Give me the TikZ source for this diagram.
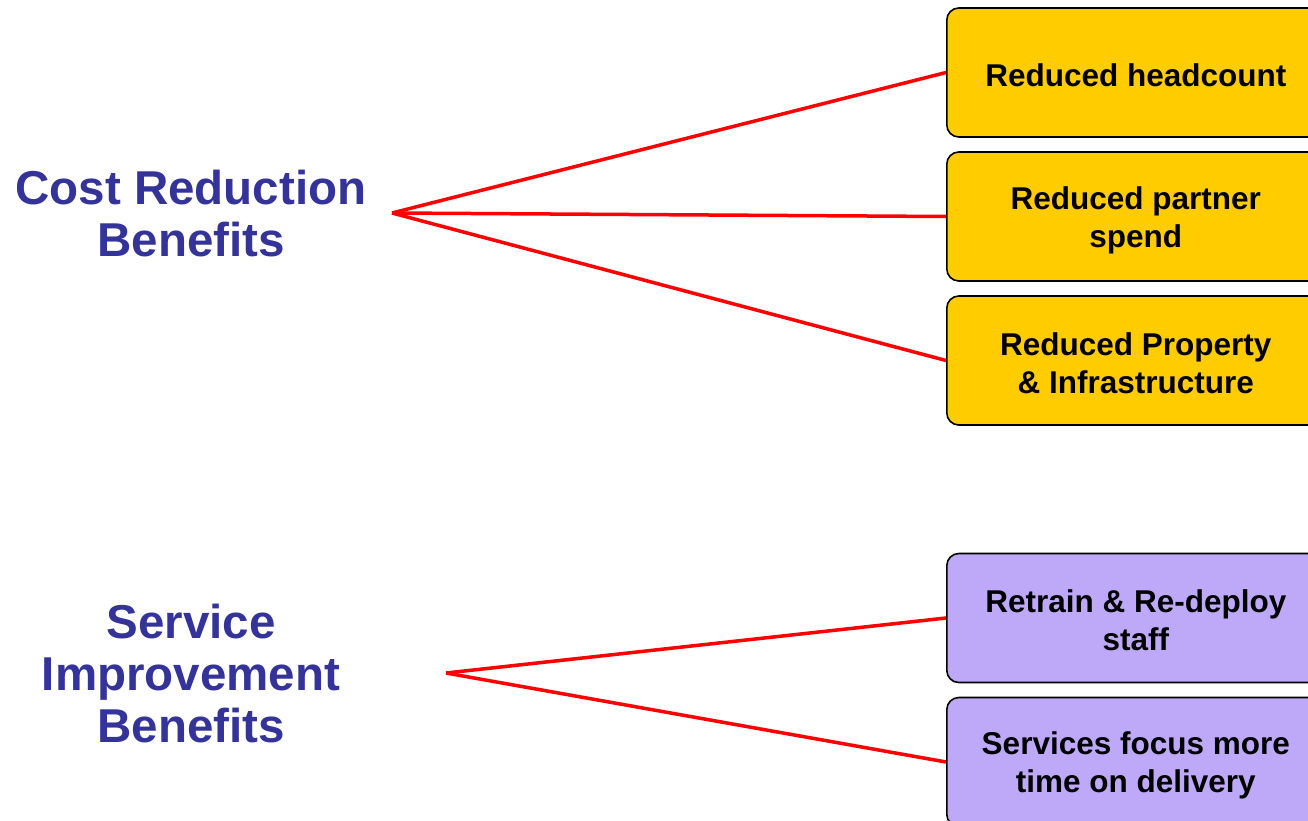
\documentclass[tikz,border=0pt]{standalone}
\usepackage{fontspec}
\setmainfont{Liberation Sans}
\definecolor{titleblue}{HTML}{333399}
\definecolor{costfill}{HTML}{FFCC00}
\definecolor{servfill}{HTML}{BEA8F8}
\begin{document}
\begin{tikzpicture}[x=1pt,y=-1pt,
  heading/.style={text=titleblue, font=\fontsize{47.5}{52}\selectfont\bfseries, align=center},
  benefit/.style={draw=black, line width=1.6pt, rounded corners=12pt, anchor=west,
    minimum width=378pt, minimum height=129pt, inner sep=0pt},
  costbox/.style={benefit, fill=costfill},
  servbox/.style={benefit, fill=servfill},
  boxtext/.style={align=center, inner sep=0pt, font=\fontsize{31.5}{38}\selectfont\bfseries},
  link/.style={red, line width=3.5pt}]
\useasboundingbox (0,0) rectangle (1308,821);
\fill[white] (0,0) rectangle (1308,821);

% group headings and the points the links fan out from
\node[heading] (cost) at (191,214) {Cost Reduction\\Benefits};
\node[heading] (serv) at (191,674) {Service\\Improvement\\Benefits};
\coordinate (costhub) at (392,213);
\coordinate (servhub) at (446,673);

\begin{scope}
\clip (0,0) rectangle (1308,821);
% cost reduction outcomes
\node[costbox] (c1) at (946,72.5) {};
\node[costbox] (c2) at (946,216.5) {};
\node[costbox] (c3) at (946,360.5) {};
% service improvement outcomes
\node[servbox] (s1) at (946,618) {};
\node[servbox] (s2) at (946,762) {};
\end{scope}

% box labels, set a little below each box centre
\node[boxtext] (c1t) at ([yshift=-3pt]c1.center) {Reduced headcount};
\node[boxtext] (c2t) at ([yshift=-4pt]c2.center) {Reduced partner\\spend};
\node[boxtext] (c3t) at ([yshift=-3pt]c3.center) {Reduced Property\\\& Infrastructure};
\node[boxtext] (s1t) at ([yshift=-2pt]s1.center) {Retrain \& Re-deploy\\staff};
\node[boxtext] (s2t) at ([yshift=-3pt]s2.center) {Services focus more\\time on delivery};

% fan-out links
\draw[link] (costhub) -- (c1.west);
\draw[link] (costhub) -- (c2.west);
\draw[link] (costhub) -- (c3.west);
\draw[link] (servhub) -- (s1.west);
\draw[link] (servhub) -- (s2.west);
\end{tikzpicture}
\end{document}
